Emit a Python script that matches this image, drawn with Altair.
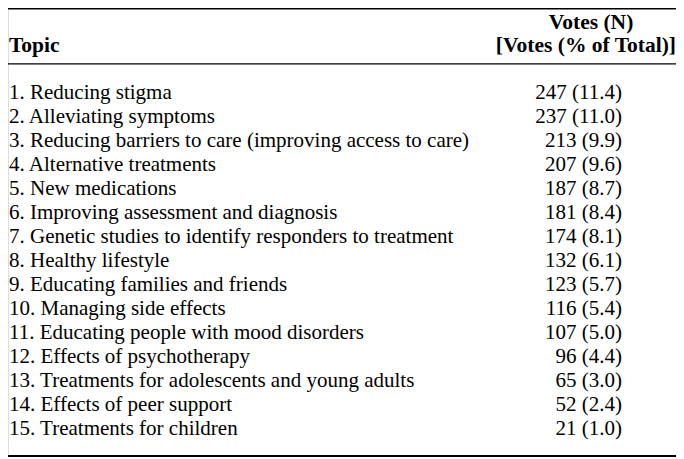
import altair as alt
import pandas as pd

topics = [
    "Reducing stigma",
    "Alleviating symptoms",
    "Reducing barriers to care (improving access to care)",
    "Alternative treatments",
    "New medications",
    "Improving assessment and diagnosis",
    "Genetic studies to identify responders to treatment",
    "Healthy lifestyle",
    "Educating families and friends",
    "Managing side effects",
    "Educating people with mood disorders",
    "Effects of psychotherapy",
    "Treatments for adolescents and young adults",
    "Effects of peer support",
    "Treatments for children",
]
votes = [247, 237, 213, 207, 187, 181, 174, 132, 123, 116, 107, 96, 65, 52, 21]
pct = [11.4, 11.0, 9.9, 9.6, 8.7, 8.4, 8.1, 6.1, 5.7, 5.4, 5.0, 4.4, 3.0, 2.4, 1.0]

header_topic = "Topic"
header_votes_1 = "Votes (N)"
header_votes_2 = "[Votes (% of Total)]"

W, H = 668, 449
FONT = "Liberation Serif"
FS = 21
HFS = 21.5

rows = pd.DataFrame({
    "row": list(range(1, len(topics) + 1)),
    "topic": [f"{i}. {t}" for i, t in enumerate(topics, start=1)],
    "value": [f"{v} ({p:.1f})" for v, p in zip(votes, pct)],
})

yscale = alt.Scale(domain=[-2.55, 16.18], reverse=True, nice=False, zero=False)
Y = lambda f: alt.Y(f, type="quantitative", scale=yscale, axis=None)

base = alt.Chart(rows)

topic_txt = base.mark_text(align="left", baseline="middle", font=FONT, fontSize=FS, color="black").encode(
    x=alt.value(1), y=Y("row"), text="topic:N")
value_txt = base.mark_text(align="right", baseline="middle", font=FONT, fontSize=FS, color="black").encode(
    x=alt.value(614), y=Y("row"), text="value:N")

hdr = pd.DataFrame({
    "row": [-0.95, -1.92, -0.95],
    "label": [header_topic, header_votes_1, header_votes_2],
    "col": ["topic", "v1", "v2"],
})
hdr_topic = alt.Chart(hdr[hdr.col == "topic"]).mark_text(
    align="left", baseline="middle", font=FONT, fontSize=HFS, fontWeight="bold", color="black").encode(
    x=alt.value(1), y=Y("row"), text="label:N")
hdr_v1 = alt.Chart(hdr[hdr.col == "v1"]).mark_text(
    align="center", baseline="middle", font=FONT, fontSize=HFS, fontWeight="bold", color="black").encode(
    x=alt.value(583), y=Y("row"), text="label:N")
hdr_v2 = alt.Chart(hdr[hdr.col == "v2"]).mark_text(
    align="right", baseline="middle", font=FONT, fontSize=HFS, fontWeight="bold", color="black").encode(
    x=alt.value(668), y=Y("row"), text="label:N")

lines = pd.DataFrame({"row": [-2.52, -0.22, 16.14], "w": [1.6, 1.4, 2.0]})
rules = alt.Chart(lines).mark_rule(color="black").encode(
    y=Y("row"), x=alt.value(0), x2=alt.value(W),
    strokeWidth=alt.StrokeWidth("w:Q", scale=None, legend=None))

chart = alt.layer(rules, topic_txt, value_txt, hdr_topic, hdr_v1, hdr_v2).properties(
    width=W, height=H, padding=0, autosize=alt.AutoSizeParams(type="none")
).configure_view(stroke=None).configure(background="white")

chart.save("out.html", embed_options={"renderer": "svg", "actions": False})
